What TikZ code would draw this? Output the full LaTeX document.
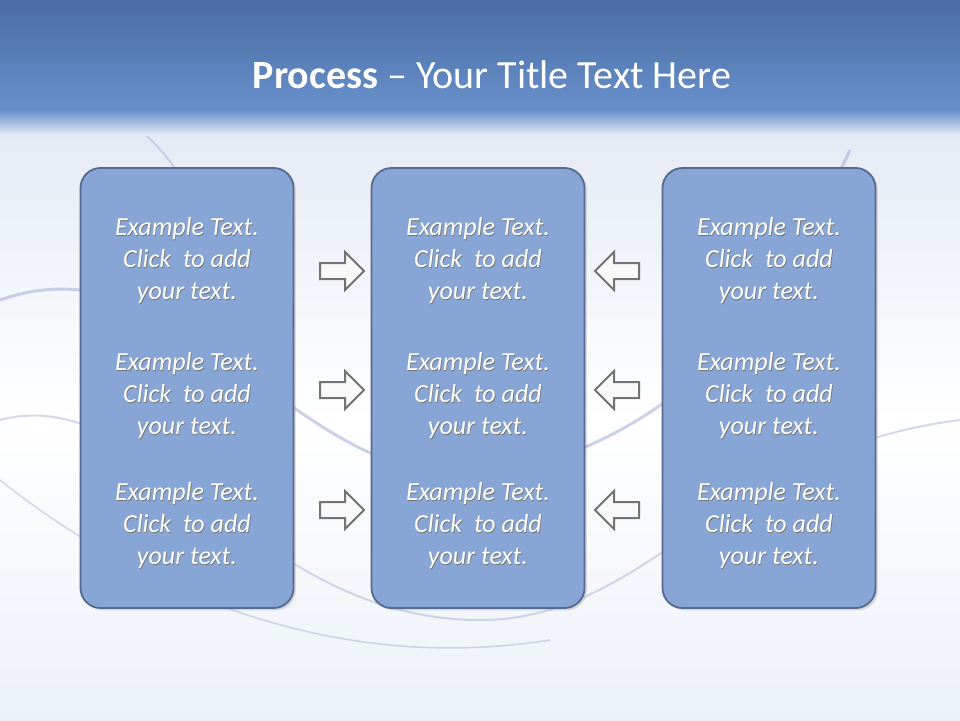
\documentclass[tikz,border=0pt]{standalone}
\usepackage{fontspec}
\setmainfont{Carlito}
\usetikzlibrary{shapes.arrows,shadows}
\definecolor{boxfill}{HTML}{87A5D5}
\definecolor{boxline}{HTML}{56698F}
\definecolor{hdrtop}{HTML}{4A6CA2}
\definecolor{hdrbot}{HTML}{6790CB}
\definecolor{swoosh}{HTML}{A9B3D6}
\definecolor{bgblue}{HTML}{E4EAF4}
\newcommand{\shtext}[1]{\makebox[0pt]{\textcolor{black!55}{\raisebox{-1.2pt}{\hspace{1.2pt}#1}}}\makebox[0pt]{#1}}
\tikzset{
  panel/.style={draw=boxline,line width=1.8pt,fill=boxfill,rounded corners=20pt,minimum width=213pt,minimum height=440pt,inner sep=0pt},
  label/.style={text=white,font=\itshape\fontsize{26}{32}\selectfont,align=center},
  arr/.style={single arrow,draw=black!55,fill=white!95!gray,line width=2pt,minimum height=44pt,inner xsep=0pt,inner ysep=7pt,single arrow head extend=11pt},
}
\begin{document}
\begin{tikzpicture}[x=1pt,y=-1pt]
\useasboundingbox (0,0) rectangle (960,720);
\fill[white] (0,0) rectangle (960,720);
\shade[top color=bgblue, bottom color=white] (0,125) rectangle (960,420);
\shade[top color=white,bottom color=bgblue!70] (0,420) rectangle (960,720);
% swooshes
\draw[swoosh,line width=3pt,opacity=0.6] (0,300) .. controls (200,230) and (300,520) .. (520,470) .. controls (700,420) and (780,300) .. (850,150);
\draw[swoosh,line width=2pt,opacity=0.5] (0,420) .. controls (150,380) and (250,620) .. (480,620) .. controls (650,620) and (720,450) .. (960,420);
\draw[swoosh,line width=1.5pt,opacity=0.5] (0,480) .. controls (100,560) and (300,680) .. (550,640);
\draw[swoosh,line width=2pt,opacity=0.5] (140,130) .. controls (200,180) and (220,260) .. (200,330);
\shade[top color=hdrtop,bottom color=hdrbot] (0,0) rectangle (960,110);
\shade[top color=hdrbot,bottom color=bgblue] (0,110) rectangle (960,135);
\node[text=white,font=\fontsize{40}{46}\selectfont] (title) at (492,75) {\textbf{Process} -- Your Title Text Here};
\foreach \n/\x in {a/187,b/478,c/769}{
  \node[panel,drop shadow={opacity=0.25}] (\n) at (\x,388) {};
  \foreach \r/\y in {1/261,2/396,3/526}{
    \node[label] (\n\r) at (\x,\y) {\shtext{Example Text.}\\\shtext{Click\ \ to add}\\\shtext{your text.}};
  }
}
\foreach \r/\y in {1/271,2/390,3/510}{
  \node[arr] (ra\r) at (338,\y) {};
  \node[arr,shape border rotate=180] (la\r) at (621,\y) {};
}
\end{tikzpicture}
\end{document}
